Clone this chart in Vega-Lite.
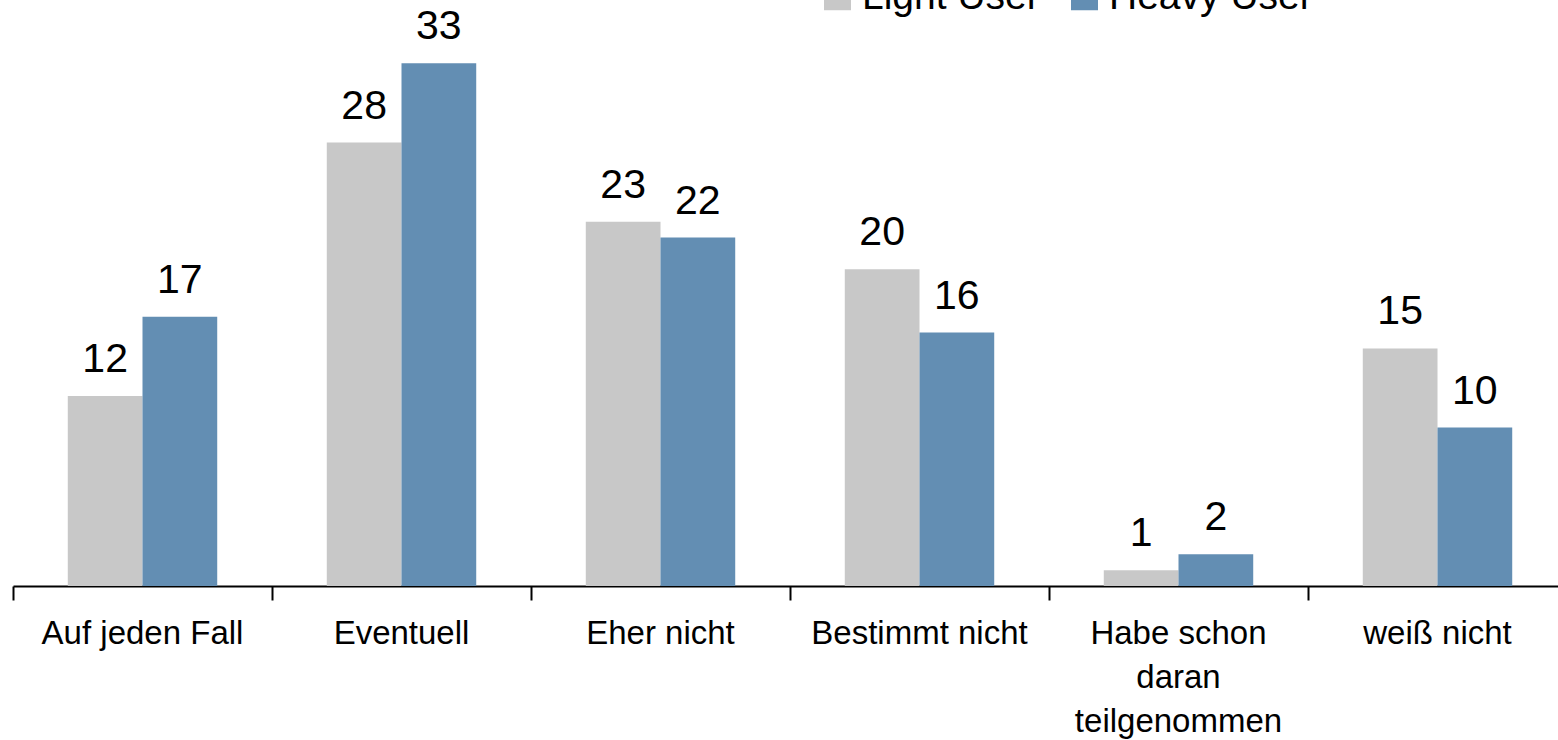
{
  "$schema": "https://vega.github.io/schema/vega-lite/v6.json",
  "width": 1545,
  "height": 586,
  "autosize": {"type": "none"},
  "padding": {"left": 13, "top": 0, "right": 0, "bottom": 154},
  "background": "white",
  "config": {
    "font": "Liberation Sans",
    "view": {"stroke": null}
  },
  "data": {
    "values": [
      {"category": "Auf jeden Fall", "group": "Light User", "value": 12},
      {"category": "Auf jeden Fall", "group": "Heavy User", "value": 17},
      {"category": "Eventuell", "group": "Light User", "value": 28},
      {"category": "Eventuell", "group": "Heavy User", "value": 33},
      {"category": "Eher nicht", "group": "Light User", "value": 23},
      {"category": "Eher nicht", "group": "Heavy User", "value": 22},
      {"category": "Bestimmt nicht", "group": "Light User", "value": 20},
      {"category": "Bestimmt nicht", "group": "Heavy User", "value": 16},
      {"category": "Habe schon daran teilgenommen", "group": "Light User", "value": 1},
      {"category": "Habe schon daran teilgenommen", "group": "Heavy User", "value": 2},
      {"category": "weiß nicht", "group": "Light User", "value": 15},
      {"category": "weiß nicht", "group": "Heavy User", "value": 10}
    ]
  },
  "encoding": {
    "x": {
      "field": "category",
      "type": "nominal",
      "sort": null,
      "scale": {"paddingInner": 0, "paddingOuter": 0, "range": [0, 1554]},
      "axis": {
        "title": null,
        "labelAngle": 0,
        "bandPosition": 0,
        "domainColor": "black",
        "domainWidth": 2,
        "tickColor": "black",
        "tickWidth": 2,
        "tickSize": 14,
        "labelPadding": 17,
        "labelFontSize": 33,
        "labelColor": "black",
        "labelLimit": 0,
        "labelLineHeight": 44,
        "labelBaseline": "top",
        "labelExpr": "datum.label == 'Habe schon daran teilgenommen' ? ['Habe schon', 'daran', 'teilgenommen'] : datum.label"
      }
    },
    "xOffset": {
      "field": "group",
      "type": "nominal",
      "sort": ["Light User", "Heavy User"],
      "scale": {"paddingInner": 0, "paddingOuter": 0.733}
    },
    "y": {
      "field": "value",
      "type": "quantitative",
      "scale": {"domain": [0, 37], "nice": false},
      "axis": null
    }
  },
  "layer": [
    {
      "mark": {"type": "bar"},
      "encoding": {
        "color": {
          "field": "group",
          "type": "nominal",
          "sort": ["Light User", "Heavy User"],
          "scale": {"domain": ["Light User", "Heavy User"], "range": ["#C8C8C8", "#638EB3"]},
          "legend": {
            "title": null,
            "orient": "none",
            "legendX": 805,
            "legendY": -23,
            "direction": "horizontal",
            "symbolType": "square",
            "symbolSize": 729,
            "symbolStrokeWidth": 0,
            "labelFontSize": 39,
            "labelColor": "black",
            "labelLimit": 0,
            "labelOffset": 5,
            "columnPadding": 25,
            "padding": 0
          }
        }
      }
    },
    {
      "mark": {"type": "text", "baseline": "alphabetic", "dy": -24, "fontSize": 41, "color": "black"},
      "encoding": {
        "text": {"field": "value", "type": "quantitative"}
      }
    }
  ]
}
